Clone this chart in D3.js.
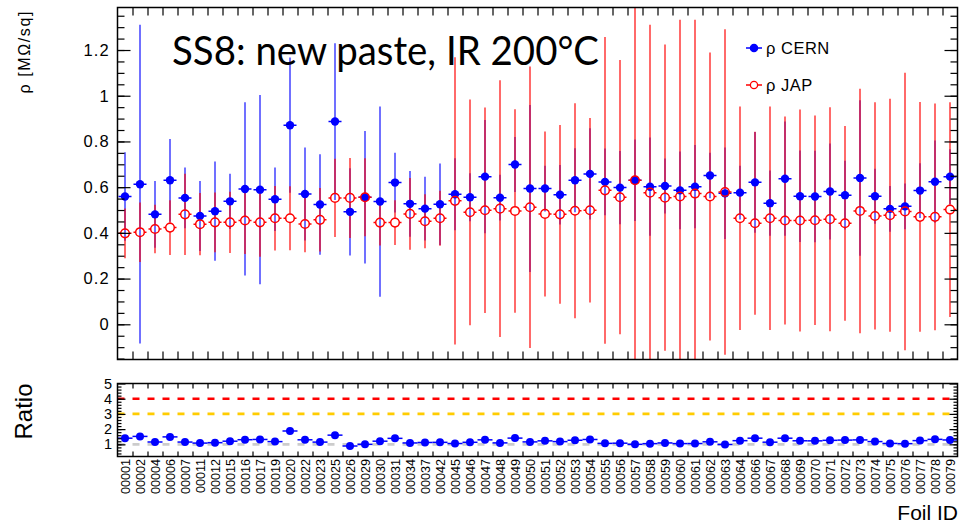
<!DOCTYPE html>
<html>
<head>
<meta charset="utf-8">
<script src="https://cdn.jsdelivr.net/npm/d3@7"></script>
<style>
  body { margin: 0; background: #fff; }
  svg { display: block; }
  text { font-family: "Liberation Sans", Arial, Helvetica, sans-serif; fill: #000; }
</style>
</head>
<body>
<svg id="chart" width="959" height="523"></svg>
<script>
// Foil IDs (x categories)
const foils = ["00001","00002","00004","00006","00007","00011","00012","00015","00016","00017",
  "00019","00020","00022","00023","00025","00026","00029","00030","00031","00034",
  "00037","00042","00045","00046","00047","00048","00049","00050","00051","00052",
  "00053","00054","00055","00056","00057","00058","00059","00060","00061","00062",
  "00063","00064","00066","00067","00068","00069","00070","00071","00072","00073",
  "00074","00075","00076","00077","00078","00079"];

// Sheet resistivity measured at CERN [MOhm/sq] and its uncertainty
const cernRho = [0.559,0.613,0.481,0.630,0.553,0.474,0.495,0.538,0.592,0.589,
  0.547,0.871,0.570,0.524,0.887,0.492,0.556,0.537,0.620,0.527,
  0.506,0.525,0.569,0.556,0.646,0.554,0.699,0.594,0.594,0.567,
  0.630,0.658,0.623,0.598,0.630,0.602,0.605,0.586,0.602,0.651,
  0.573,0.576,0.621,0.530,0.637,0.560,0.559,0.581,0.565,0.640,
  0.560,0.505,0.516,0.585,0.624,0.646];
const cernErr = [0.194,0.697,0.146,0.181,0.133,0.153,0.217,0.121,0.379,0.414,
  0.139,0.296,0.203,0.220,0.343,0.191,0.290,0.416,0.131,0.144,
  0.139,0.178,0.158,0.105,0.248,0.100,0.120,0.365,0.100,0.130,
  0.140,0.200,0.146,0.160,0.178,0.215,0.120,0.170,0.182,0.100,
  0.200,0.118,0.220,0.143,0.250,0.200,0.200,0.210,0.150,0.340,
  0.120,0.100,0.100,0.120,0.180,0.120];

// Sheet resistivity measured in Japan [MOhm/sq] and its uncertainty
const japRho = [0.398,0.403,0.417,0.423,0.481,0.438,0.446,0.446,0.454,0.446,
  0.464,0.464,0.439,0.457,0.553,0.553,0.556,0.445,0.445,0.483,
  0.451,0.464,0.540,0.490,0.499,0.506,0.496,0.512,0.483,0.481,
  0.497,0.499,0.586,0.556,0.630,0.576,0.554,0.559,0.572,0.559,
  0.579,0.464,0.442,0.464,0.454,0.454,0.455,0.460,0.442,0.496,
  0.474,0.477,0.494,0.470,0.470,0.502];
const japErr = [0.109,0.130,0.106,0.120,0.178,0.136,0.131,0.134,0.146,0.150,
  0.141,0.140,0.124,0.139,0.171,0.175,0.171,0.100,0.098,0.157,
  0.118,0.120,0.628,0.494,0.450,0.562,0.445,0.616,0.361,0.391,
  0.470,0.404,0.671,0.600,0.850,0.734,0.670,0.773,0.760,0.630,
  0.712,0.489,0.400,0.489,0.455,0.486,0.458,0.490,0.426,0.535,
  0.497,0.510,0.607,0.503,0.496,0.470];

const rhoTicks = [0, 0.2, 0.4, 0.6, 0.8, 1, 1.2];
const ratioTicks = [1, 2, 3, 4, 5];
const ratioRefLevels = [1, 3, 4];
const ratioRefColors = ["#cccccc", "#ffcc00", "#ff0000"];
const titleText = "SS8: new paste, IR 200°C";

// ratio CERN / JAP for each foil
const ratio = cernRho.map((v, i) => v / japRho[i]);

const svg = d3.select("#chart");
const L = 117.5, R = 957.5;
const T1 = 7.5, B1 = 359.5;   // main pad
const T2 = 383.5, B2 = 456.5; // ratio pad

const x = d3.scaleBand().domain(foils).range([L, R]);
const xEdge = d3.scaleLinear().domain([0, foils.length]).range([L, R]);
const cx = f => x(f) + x.bandwidth() / 2;
const y = d3.scaleLinear().domain([-0.154, 1.386]).range([B1, T1]);
const yr = d3.scaleLinear().domain([0.2, 5]).range([B2, T2]);

const BLUE = "#0000ff", RED = "#ff0000";

svg.append("defs").append("clipPath").attr("id", "clipMain")
  .append("rect").attr("x", L).attr("y", T1).attr("width", R - L).attr("height", B1 - T1);

// ---------- main pad ----------
const main = svg.append("g");
const plot = main.append("g").attr("clip-path", "url(#clipMain)");

const rows = foils.map((f, i) => ({f, c: cernRho[i], ce: cernErr[i], j: japRho[i], je: japErr[i]}));
const hw = 6.5, rBlue = 4.2, rRed = 4.3;

// CERN error bars
const gCe = plot.append("g").attr("stroke", BLUE).attr("stroke-opacity", 0.75).attr("stroke-width", 1.5);
gCe.selectAll("line.v").data(rows).join("line").attr("class", "v")
  .attr("x1", d => cx(d.f)).attr("x2", d => cx(d.f))
  .attr("y1", d => y(d.c + d.ce)).attr("y2", d => y(d.c - d.ce));
gCe.selectAll("line.h").data(rows).join("line").attr("class", "h")
  .attr("x1", d => cx(d.f) - hw).attr("x2", d => cx(d.f) + hw)
  .attr("y1", d => y(d.c)).attr("y2", d => y(d.c)).attr("stroke-opacity", 1);

// JAP error bars (kept outside the open marker)
const gJe = plot.append("g").attr("stroke", RED).attr("stroke-opacity", 0.78).attr("stroke-width", 1.5);
gJe.selectAll("line.up").data(rows).join("line").attr("class", "up")
  .attr("x1", d => cx(d.f)).attr("x2", d => cx(d.f))
  .attr("y1", d => y(d.j + d.je)).attr("y2", d => y(d.j) - rRed);
gJe.selectAll("line.dn").data(rows).join("line").attr("class", "dn")
  .attr("x1", d => cx(d.f)).attr("x2", d => cx(d.f))
  .attr("y1", d => y(d.j) + rRed).attr("y2", d => y(d.j - d.je));
gJe.selectAll("line.hl").data(rows).join("line").attr("class", "hl")
  .attr("x1", d => cx(d.f) - hw).attr("x2", d => cx(d.f) - rRed)
  .attr("y1", d => y(d.j)).attr("y2", d => y(d.j)).attr("stroke-opacity", 1);
gJe.selectAll("line.hr").data(rows).join("line").attr("class", "hr")
  .attr("x1", d => cx(d.f) + rRed).attr("x2", d => cx(d.f) + hw)
  .attr("y1", d => y(d.j)).attr("y2", d => y(d.j)).attr("stroke-opacity", 1);

// markers
plot.append("g").selectAll("circle").data(rows).join("circle")
  .attr("cx", d => cx(d.f)).attr("cy", d => y(d.c)).attr("r", rBlue).attr("fill", BLUE);
plot.append("g").selectAll("circle").data(rows).join("circle")
  .attr("cx", d => cx(d.f)).attr("cy", d => y(d.j)).attr("r", rRed)
  .attr("fill", "none").attr("stroke", RED).attr("stroke-width", 1.5);

// axes of the main pad (ticks point into the frame)
function styleAxis(g) {
  g.select(".domain").remove();
  g.selectAll(".tick line").attr("stroke", "#000").attr("stroke-width", 1.2);
}
main.append("g").attr("transform", `translate(${L},0)`)
  .call(d3.axisLeft(y).tickValues(d3.range(-0.15, 1.351, 0.05)).tickSize(-7).tickFormat(""))
  .call(styleAxis);
main.append("g").attr("transform", `translate(${L},0)`)
  .call(d3.axisLeft(y).tickValues(rhoTicks).tickSize(-13).tickPadding(7.5).tickFormat(d3.format("~g")))
  .call(styleAxis)
  .call(g => g.selectAll("text").attr("font-size", 16.5).attr("letter-spacing", 1.2));
main.append("g").attr("transform", `translate(${R},0)`)
  .call(d3.axisRight(y).tickValues(d3.range(-0.15, 1.351, 0.05)).tickSize(-7).tickFormat(""))
  .call(styleAxis);
main.append("g").attr("transform", `translate(${R},0)`)
  .call(d3.axisRight(y).tickValues(rhoTicks).tickSize(-13).tickFormat(""))
  .call(styleAxis);
main.append("g").attr("transform", `translate(0,${B1})`)
  .call(d3.axisBottom(xEdge).tickValues(d3.range(1, foils.length)).tickSize(-8).tickFormat(""))
  .call(styleAxis);
main.append("g").attr("transform", `translate(0,${T1})`)
  .call(d3.axisTop(xEdge).tickValues(d3.range(1, foils.length)).tickSize(-8).tickFormat(""))
  .call(styleAxis);
main.append("rect").attr("x", L).attr("y", T1).attr("width", R - L).attr("height", B1 - T1)
  .attr("fill", "none").attr("stroke", "#000").attr("stroke-width", 1.5);

// y title
svg.append("text").attr("transform", "translate(30,10) rotate(-90)")
  .attr("text-anchor", "end").attr("font-size", 16).attr("letter-spacing", 1.6)
  .text("ρ [MΩ/sq]");

// title
const title = svg.append("text").attr("x", 172).attr("y", 65)
  .style("font-family", "Lato, 'Open Sans', sans-serif").attr("font-size", 40)
  .text(titleText);
title.attr("textLength", 427).attr("lengthAdjust", "spacingAndGlyphs");

// legend
const leg = svg.append("g");
const legItems = [{label: "ρ CERN", color: BLUE, filled: true, y: 48},
                  {label: "ρ JAP", color: RED, filled: false, y: 85}];
leg.selectAll("line").data(legItems).join("line")
  .attr("x1", 746).attr("x2", 762).attr("y1", d => d.y).attr("y2", d => d.y)
  .attr("stroke", d => d.color).attr("stroke-width", 1.5);
leg.selectAll("circle").data(legItems).join("circle")
  .attr("cx", 754).attr("cy", d => d.y).attr("r", 3.6)
  .attr("fill", d => d.filled ? d.color : "#fff").attr("stroke", d => d.color).attr("stroke-width", 1.3);
leg.selectAll("text").data(legItems).join("text")
  .attr("x", 766).attr("y", d => d.y + 6).attr("font-size", 16.5).attr("letter-spacing", 0.5)
  .text(d => d.label);

// ---------- ratio pad ----------
const rp = svg.append("g");
rp.selectAll("line.ref").data(ratioRefLevels).join("line").attr("class", "ref")
  .attr("x1", L).attr("x2", R).attr("y1", d => yr(d)).attr("y2", d => yr(d))
  .attr("stroke", (d, i) => ratioRefColors[i]).attr("stroke-width", 2.6)
  .attr("stroke-dasharray", "7,8");

const rrows = foils.map((f, i) => ({f, r: ratio[i]}));
rp.append("g").attr("stroke", BLUE).attr("stroke-width", 1.5)
  .selectAll("line").data(rrows).join("line")
  .attr("x1", d => x(d.f)).attr("x2", d => x(d.f) + x.bandwidth())
  .attr("y1", d => yr(d.r)).attr("y2", d => yr(d.r));
rp.append("g").selectAll("circle").data(rrows).join("circle")
  .attr("cx", d => cx(d.f)).attr("cy", d => yr(d.r)).attr("r", 4).attr("fill", BLUE);

rp.append("g").attr("transform", `translate(${L},0)`)
  .call(d3.axisLeft(yr).tickValues(d3.range(0.4, 4.91, 0.2)).tickSize(-4).tickFormat(""))
  .call(styleAxis);
rp.append("g").attr("transform", `translate(${L},0)`)
  .call(d3.axisLeft(yr).tickValues(ratioTicks).tickSize(-8).tickPadding(5.5).tickFormat(d3.format("d")))
  .call(styleAxis)
  .call(g => g.selectAll("text").attr("font-size", 14.5));
rp.append("g").attr("transform", `translate(${R},0)`)
  .call(d3.axisRight(yr).tickValues(d3.range(0.4, 4.91, 0.2)).tickSize(-4).tickFormat(""))
  .call(styleAxis);
rp.append("g").attr("transform", `translate(${R},0)`)
  .call(d3.axisRight(yr).tickValues(ratioTicks).tickSize(-8).tickFormat(""))
  .call(styleAxis);
rp.append("g").attr("transform", `translate(0,${T2})`)
  .call(d3.axisTop(xEdge).tickValues(d3.range(1, foils.length)).tickSize(-5).tickFormat(""))
  .call(styleAxis);
rp.append("g").attr("transform", `translate(0,${B2})`)
  .call(d3.axisBottom(xEdge).tickValues(d3.range(1, foils.length)).tickSize(-5).tickFormat(""))
  .call(styleAxis);
rp.append("rect").attr("x", L).attr("y", T2).attr("width", R - L).attr("height", B2 - T2)
  .attr("fill", "none").attr("stroke", "#000").attr("stroke-width", 1.5);

// foil ID labels, vertical
rp.append("g").attr("transform", `translate(0,${B2})`)
  .call(d3.axisBottom(x).tickSize(0))
  .call(g => g.select(".domain").remove())
  .call(g => g.selectAll("text")
    .attr("transform", "rotate(-90)")
    .attr("text-anchor", "end")
    .attr("x", -2.5).attr("y", 0).attr("dy", "0.36em")
    .attr("font-size", 12.6));

svg.append("text").attr("transform", "translate(32,411.5) rotate(-90)")
  .attr("text-anchor", "middle").attr("font-size", 24).text("Ratio");
svg.append("text").attr("x", 958).attr("y", 520).attr("text-anchor", "end")
  .attr("font-size", 21).text("Foil ID");
</script>
</body>
</html>
